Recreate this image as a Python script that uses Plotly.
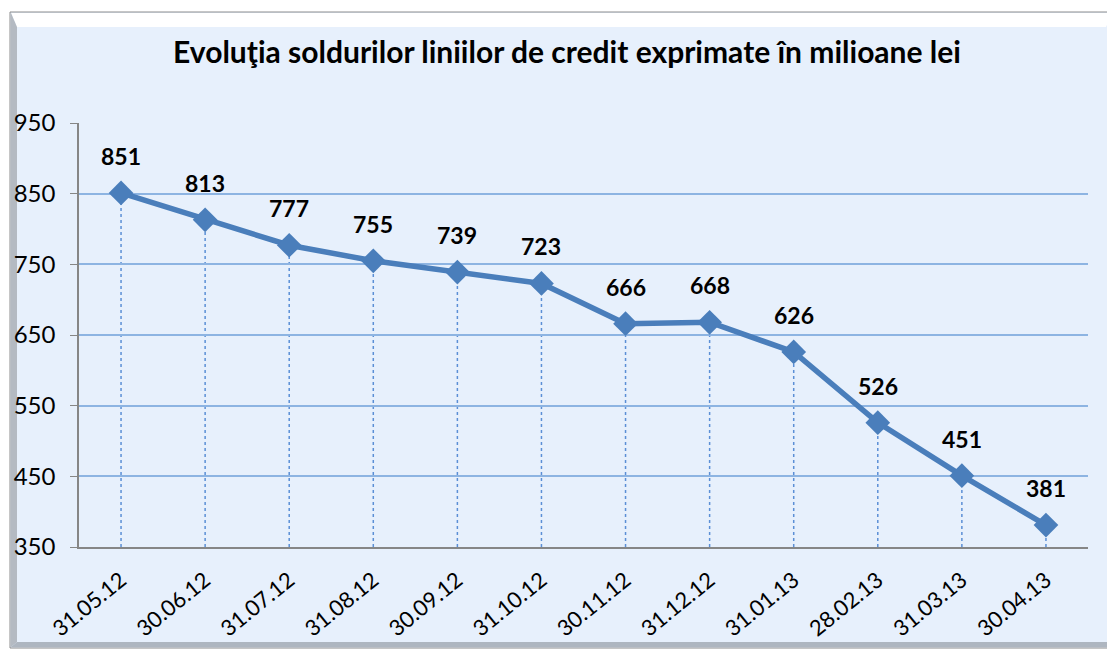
import plotly.graph_objects as go

categories = ["31.05.12", "30.06.12", "31.07.12", "31.08.12", "30.09.12", "31.10.12",
              "30.11.12", "31.12.12", "31.01.13", "28.02.13", "31.03.13", "30.04.13"]
values = [851, 813, 777, 755, 739, 723, 666, 668, 626, 526, 451, 381]
y_ticks = [350, 450, 550, 650, 750, 850, 950]
title_text = "Evoluţia soldurilor liniilor de credit exprimate în milioane lei"

# page has an 8px body margin; work in screen coordinates and shift
OFF = 8
W, H = 1115 - OFF, 651 - OFF
L, R, T, B = 79 - OFF, 1115 - 1088, 123 - OFF, 651 - 547
pw, ph = W - L - R, H - T - B

def px(x):
    return (x - OFF - L) / pw

def py(y):
    return (H - B - (y - OFF)) / ph

FONT = "Lato"
LINE = "#4A7EBB"

fig = go.Figure()
fig.add_trace(go.Scatter(
    x=categories, y=values, mode="lines+markers",
    line=dict(color=LINE, width=5.5),
    marker=dict(symbol="diamond", size=19, color=LINE),
    hoverinfo="x+y", showlegend=False, cliponaxis=False,
))

shapes = []
# frame
shapes.append(dict(type="rect", xref="paper", yref="paper", layer="below",
                   x0=px(10), x1=px(1113), y0=py(648), y1=py(12),
                   fillcolor="#E7F0FC", line=dict(color="#8C8C8C", width=1)))
# top white bevel
shapes.append(dict(type="path", xref="paper", yref="paper", layer="below",
                   path=f"M {px(11)},{py(13)} L {px(1112)},{py(13)} L {px(1106)},{py(27)} L {px(17)},{py(27)} Z",
                   fillcolor="#FFFFFF", line=dict(width=0)))
# left bevel
shapes.append(dict(type="path", xref="paper", yref="paper", layer="below",
                   path=f"M {px(11)},{py(13)} L {px(17)},{py(27)} L {px(17)},{py(642)} L {px(11)},{py(647)} Z",
                   fillcolor="#B4BAC2", line=dict(width=0)))
# right bevel
shapes.append(dict(type="path", xref="paper", yref="paper", layer="below",
                   path=f"M {px(1112)},{py(13)} L {px(1112)},{py(647)} L {px(1108)},{py(642)} L {px(1108)},{py(27)} Z",
                   fillcolor="#C9D3DF", line=dict(width=0)))
# bottom bevel
shapes.append(dict(type="path", xref="paper", yref="paper", layer="below",
                   path=f"M {px(11)},{py(647)} L {px(1112)},{py(647)} L {px(1108)},{py(642)} L {px(17)},{py(642)} Z",
                   fillcolor="#AEB6C0", line=dict(width=0)))
# drop lines
for c, v in zip(categories, values):
    shapes.append(dict(type="line", xref="x", yref="y", layer="below",
                       x0=c, x1=c, y0=y_ticks[0], y1=v,
                       line=dict(color="#5B8FD6", width=1.5, dash="dot")))

annotations = [dict(x=c, y=v, xref="x", yref="y", text=f"<b>{v}</b>", showarrow=False,
                    yshift=37, font=dict(family=FONT, size=23, color="#000000"),
                    xanchor="center", yanchor="middle")
               for c, v in zip(categories, values)]

fig.update_layout(
    width=W, height=H,
    margin=dict(l=L, r=R, t=T, b=B, pad=0, autoexpand=False),
    paper_bgcolor="#FFFFFF",
    plot_bgcolor="rgba(0,0,0,0)",
    title=dict(text=f"<b>{title_text}</b>", x=(567 - OFF) / W, xanchor="center",
               y=1 - (52 - OFF) / H, yanchor="middle",
               font=dict(family=FONT, size=30, color="#000000")),
    shapes=shapes,
    annotations=annotations,
    xaxis=dict(type="category", range=[-0.5, len(categories) - 0.5], autorange=False,
               automargin=False,
               showgrid=False, showline=True, linecolor="#868686",
               linewidth=1.5, ticks="", tickangle=-39, ticklabelstandoff=10,
               tickfont=dict(family=FONT, size=22, color="#000000"),
               zeroline=False),
    yaxis=dict(range=[350, 950], tickvals=y_ticks, showgrid=True, gridcolor="#8DB4E2",
               automargin=False,
               gridwidth=1.5, showline=True, linecolor="#868686", linewidth=1.5,
               ticks="outside", ticklen=7, tickcolor="#868686", ticklabelstandoff=10,
               tickfont=dict(family=FONT, size=24, color="#000000"),
               zeroline=False),
    font=dict(family=FONT),
)

fig.write_html("out.html")
